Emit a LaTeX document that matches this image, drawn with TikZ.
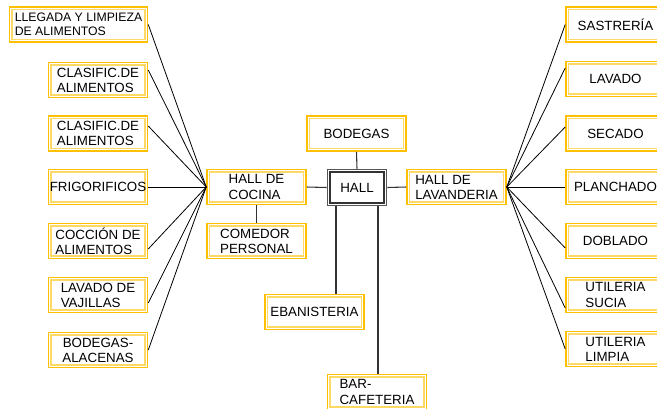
\documentclass[tikz,border=0pt]{standalone}
\usepackage{fontspec}
\setmainfont{Liberation Sans}
\usetikzlibrary{calc,backgrounds}
\definecolor{ygold}{HTML}{FFC000}
\definecolor{ylight}{HTML}{FFD966}
\definecolor{hallout}{HTML}{555555}
\definecolor{hallin}{HTML}{333333}
\newcommand{\pxu}{0.75pt}
\begin{document}
\begin{tikzpicture}[x=0.75pt,y=-0.75pt,
  box/.style={draw=none, align=left, inner sep=0pt,
    font=\fontsize{10}{11.3}\selectfont,
    minimum height=36*\pxu, minimum width=100*\pxu},
  hallbox/.style={box, minimum width=60*\pxu, minimum height=37*\pxu},
  conn/.style={draw=black, line width=0.6pt},
  vconn/.style={draw=black!80, line width=0.8pt}]
\useasboundingbox (0,0) rectangle (657,408);
\clip (0,0) rectangle (657,408);
% left column
\node[box, minimum width=139*\pxu, font=\fontsize{9.2}{10.6}\selectfont] (lleg) at (78.5,24.5) {LLEGADA Y LIMPIEZA\\DE ALIMENTOS};
\node[box] (clas1) at (98,80) {CLASIFIC.DE\\ALIMENTOS};
\node[box] (clas2) at (98,133.5) {CLASIFIC.DE\\ALIMENTOS};
\node[box] (frig) at (98,187) {FRIGORIFICOS};
\node[box] (cocc) at (98,241) {COCCIÓN DE\\ALIMENTOS};
\node[box] (vaji) at (98,295) {LAVADO DE\\VAJILLAS};
\node[box, align=center] (alac) at (98,350) {BODEGAS-\\ALACENAS};
% center
\node[box] (hcoc) at (256.5,187) {HALL DE\\COCINA};
\node[box] (come) at (256.5,241) {COMEDOR\\PERSONAL};
\node[hallbox] (hall) at (357,187.5) {HALL};
\node[box] (bode) at (356.5,133.5) {BODEGAS};
\node[box] (hlav) at (456.5,187) {HALL DE\\LAVANDERIA};
\node[box] (eban) at (314.5,312) {EBANISTERIA};
\node[box] (bar) at (377,392) {BAR-\\CAFETERIA};
% right column
\node[box] (sast) at (615.5,24.5) {SASTRERÍA};
\node[box] (lava) at (615.5,79) {LAVADO};
\node[box] (seca) at (615.5,133.5) {SECADO};
\node[box] (plan) at (615.5,187) {PLANCHADO};
\node[box] (dobl) at (615.5,241) {DOBLADO};
\node[box] (usuc) at (615.5,295) {UTILERIA\\SUCIA};
\node[box] (ulim) at (615.5,349) {UTILERIA\\LIMPIA};
% double borders as nested fills
\begin{pgfonlayer}{background}
\foreach \n in {lleg,clas1,clas2,frig,cocc,vaji,alac,hcoc,come,bode,hlav,eban,bar,sast,lava,seca,plan,dobl,usuc,ulim}{
  \fill[ygold] (\n.south west) rectangle (\n.north east);
  \fill[white] ($(\n.south west)+(1pt,1pt)$) rectangle ($(\n.north east)+(-1pt,-1pt)$);
  \fill[ylight] ($(\n.south west)+(1.8pt,1.8pt)$) rectangle ($(\n.north east)+(-1.8pt,-1.8pt)$);
  \fill[white] ($(\n.south west)+(3.1pt,3.1pt)$) rectangle ($(\n.north east)+(-3.1pt,-3.1pt)$);
}
\fill[hallout] (hall.south west) rectangle (hall.north east);
\fill[white] ($(hall.south west)+(1pt,1pt)$) rectangle ($(hall.north east)+(-1pt,-1pt)$);
\fill[hallin] ($(hall.south west)+(1.8pt,1.8pt)$) rectangle ($(hall.north east)+(-1.8pt,-1.8pt)$);
\fill[white] ($(hall.south west)+(3.1pt,3.1pt)$) rectangle ($(hall.north east)+(-3.1pt,-3.1pt)$);
\end{pgfonlayer}
% left connectors
\draw[conn] (lleg.east) -- (hcoc.west);
\draw[conn] ($(clas1.east)+(0,-10)$) -- (hcoc.west);
\draw[conn] ($(clas2.east)+(0,-7.5)$) -- (hcoc.west);
\draw[conn] (frig.east) -- (hcoc.west);
\draw[conn] ($(cocc.east)+(0,8)$) -- (hcoc.west);
\draw[conn] ($(vaji.east)+(0,8)$) -- (hcoc.west);
\draw[conn] (alac.east) -- (hcoc.west);
% right connectors
\draw[conn] (sast.west) -- (hlav.east);
\draw[conn] ($(lava.west)+(0,-11)$) -- (hlav.east);
\draw[conn] ($(seca.west)+(0,-6.5)$) -- (hlav.east);
\draw[conn] (plan.west) -- (hlav.east);
\draw[conn] ($(dobl.west)+(0,7)$) -- (hlav.east);
\draw[conn] ($(usuc.west)+(0,13)$) -- (hlav.east);
\draw[conn] (ulim.west) -- (hlav.east);
% center connectors
\draw[vconn] (hcoc.east) -- (hall.west);
\draw[vconn] (hall.east) -- (hlav.west);
\draw[vconn] (bode.south) -- (hall.north);
\draw[vconn] (hcoc.south) -- (come.north);
\coordinate (e1) at ($(eban.north)+(21.5,0)$);
\coordinate (b1) at ($(bar.north)+(1,0)$);
\draw[vconn] (e1 |- hall.south) -- (e1);
\draw[vconn] (b1 |- hall.south) -- (b1);
\end{tikzpicture}
\end{document}
